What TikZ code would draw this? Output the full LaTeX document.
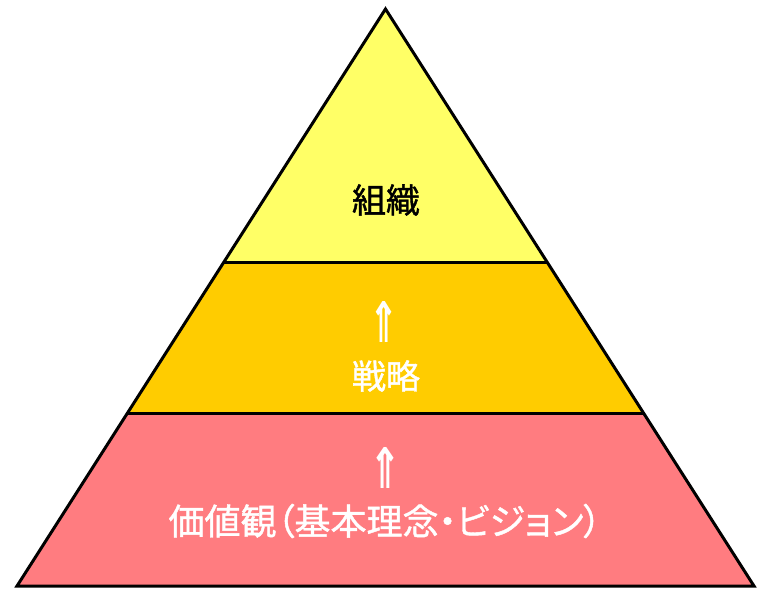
\documentclass[tikz,border=0pt]{standalone}
\usepackage{fontspec}
\usetikzlibrary{calc}
\newfontfamily\cjk[RawFeature=+palt,FakeBold=1.2]{Noto Sans CJK JP}
\newfontfamily\symfont{DejaVu Sans}
\definecolor{topyellow}{HTML}{FFFF66}
\definecolor{midorange}{HTML}{FFCC00}
\definecolor{basepink}{HTML}{FF7C80}
\tikzset{
  label text/.style={inner sep=0pt, font=\cjk\fontsize{34}{40}\selectfont},
  up arrow/.style={inner sep=0pt, text=white, font=\symfont\bfseries\fontsize{56}{60}\selectfont},
  edge line/.style={line width=3pt, line join=miter, black}
}
\begin{document}
\begin{tikzpicture}[x=1pt,y=-1pt]
\useasboundingbox (0,0) rectangle (766,600);
\fill[white] (0,0) rectangle (766,600);
\coordinate (A) at (385.5,9);
\coordinate (L) at (17,586);
\coordinate (R) at (754,586);
\coordinate (L1) at ($(A)!0.4385!(L)$);
\coordinate (R1) at ($(A)!0.4385!(R)$);
\coordinate (L2) at ($(A)!0.7002!(L)$);
\coordinate (R2) at ($(A)!0.7002!(R)$);
% fills
\fill[topyellow] (A) -- (R1) -- (L1) -- cycle;
\fill[midorange] (L1) -- (R1) -- (R2) -- (L2) -- cycle;
\fill[basepink] (L2) -- (R2) -- (R) -- (L) -- cycle;
% outlines
\draw[edge line] (L1) -- (R1);
\draw[edge line] (L2) -- (R2);
\draw[edge line] (A) -- (R) -- (L) -- cycle;
% texts
\node[label text, text=black] (org) at (386,200) {組織};
\node[up arrow] (arr1) at (384,322) {\scalebox{0.62}[1]{⇑}};
\node[up arrow] (arr2) at (385,468) {\scalebox{0.68}[1]{⇑}};
\node[label text, text=white] (strat) at (386,376) {戦略};
\node[label text, text=white, font=\cjk\fontsize{36}{40}\selectfont] (values) at (385,521) {価値観（基本理念・ビジョン）};
\end{tikzpicture}
\end{document}
